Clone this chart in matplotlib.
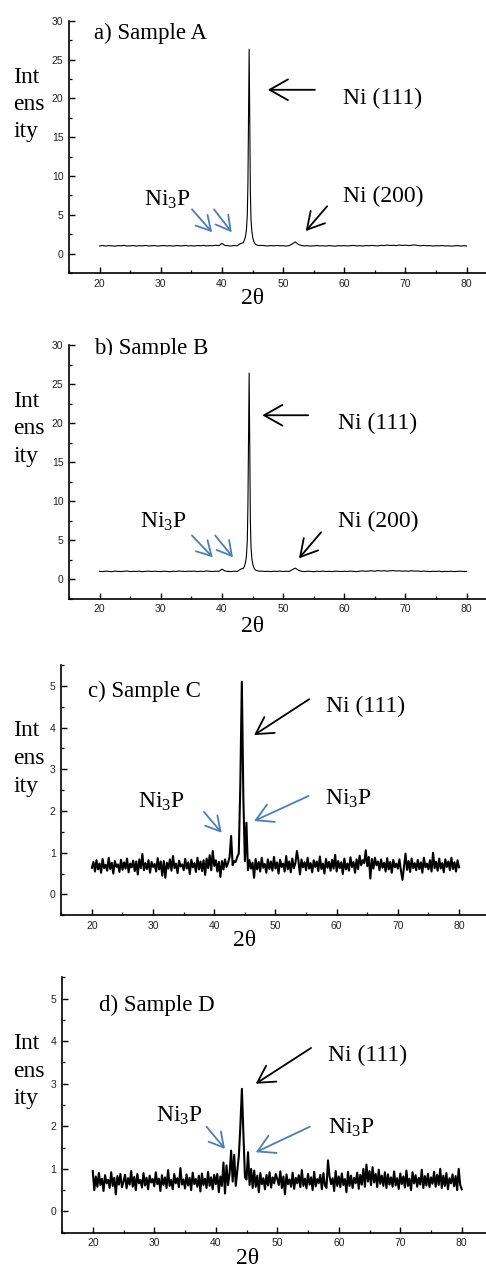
import numpy as np
import matplotlib
matplotlib.use("Agg")
import matplotlib.pyplot as plt
from matplotlib.ticker import MultipleLocator
from matplotlib.patches import Rectangle

plt.rcParams['mathtext.fontset'] = 'custom'
plt.rcParams['mathtext.rm'] = 'Liberation Serif'
plt.rcParams['mathtext.it'] = 'Liberation Serif:italic'

W, H = 486, 1267

# ---------------- data ----------------
# Samples A and B: baseline every 0.5 deg from 20 to 80 (intensity x100)
base_a = [98, 104, 97, 102, 100, 95, 103, 99, 106, 97, 101, 104, 96, 102, 99, 105, 98, 101, 103, 97,
          100, 104, 98, 102, 96, 103, 101, 99, 105, 98, 102, 97, 104, 100, 106, 99, 103, 101, 108, 102,
          132, 104, 101, 98, 104, 100, 128, 140, 200, 300, 500, 118, 104, 106, 102, 98, 103, 100, 104, 101,
          101, 97, 103, 125, 150, 118, 104, 99, 102, 96, 100, 104, 98, 101, 97, 103, 100, 96, 102, 99,
          103, 98, 101, 105, 99, 102, 97, 104, 100, 106, 101, 99, 107, 103, 110, 104, 108, 102, 111, 105,
          109, 103, 107, 112, 104, 100, 106, 101, 103, 97, 102, 99, 104, 98, 101, 96, 100, 103, 97, 101,
          98]
base_b = [101, 97, 103, 99, 96, 104, 100, 98, 102, 105, 97, 101, 99, 103, 96, 100, 104, 98, 102, 99,
          97, 103, 100, 96, 102, 99, 105, 101, 98, 103, 100, 104, 97, 102, 99, 106, 101, 98, 103, 100,
          128, 105, 100, 97, 103, 99, 126, 140, 200, 300, 500, 116, 103, 103, 99, 101, 97, 102, 100, 104,
          98, 102, 99, 122, 142, 115, 101, 97, 103, 100, 96, 102, 99, 104, 98, 101, 97, 103, 100, 98,
          102, 99, 104, 100, 97, 103, 106, 101, 104, 108, 102, 110, 105, 109, 103, 107, 111, 104, 108, 102,
          106, 101, 109, 103, 105, 99, 104, 100, 97, 102, 99, 103, 96, 101, 98, 102, 97, 100, 103, 98,
          100]
# Ni(111) peak profile for A and B
peak_x_ab = [43.7, 43.85, 44.0, 44.15, 44.25, 44.35, 44.45, 44.55, 44.65, 44.75, 44.9, 45.05, 45.2, 45.35]
peak_a = [1.8, 2.2, 3.0, 5.0, 9.0, 17.0, 26.3, 17.0, 8.0, 4.5, 2.8, 2.0, 1.6, 1.35]
peak_b = [1.7, 2.1, 2.9, 5.0, 9.5, 17.5, 26.4, 16.5, 7.5, 4.2, 2.6, 1.9, 1.5, 1.3]

# Samples C and D: every 0.25 deg from 20 to 80 (intensity x100)
int_c = [64, 78, 55, 82, 60, 74, 52, 85, 63, 71, 57, 88, 61, 76, 50, 80, 66, 72, 54, 83,
         59, 77, 62, 86, 53, 74, 65, 81, 56, 79, 48, 84, 63, 97, 58, 75, 61, 82, 52, 78,
         66, 73, 55, 87, 60, 79, 45, 80, 40, 76, 62, 84, 57, 92, 63, 74, 51, 81, 67, 72,
         58, 85, 62, 77, 49, 83, 65, 75, 54, 88, 60, 79, 56, 82, 47, 86, 63, 94, 58, 104,
         68, 82, 55, 78, 42, 80, 60, 84, 66, 75, 90, 140, 70, 80, 78, 90, 98, 260, 510, 230,
         80, 172, 58, 82, 62, 76, 40, 85, 60, 78, 55, 88, 64, 73, 52, 84, 61, 79, 57, 90,
         62, 77, 50, 83, 66, 74, 55, 92, 60, 79, 53, 86, 63, 75, 104, 81, 48, 84, 65, 77,
         58, 88, 62, 75, 53, 82, 66, 79, 56, 91, 61, 74, 50, 85, 64, 78, 57, 83, 62, 95,
         55, 80, 63, 77, 49, 86, 60, 74, 57, 89, 66, 78, 52, 84, 61, 93, 70, 82, 75, 106,
         68, 90, 38, 85, 62, 88, 70, 79, 58, 84, 64, 76, 55, 87, 60, 78, 52, 83, 65, 74,
         62, 84, 57, 35, 66, 98, 59, 80, 54, 86, 63, 75, 58, 83, 61, 77, 52, 88, 65, 74,
         60, 82, 55, 100, 63, 78, 57, 86, 62, 75, 53, 84, 66, 79, 58, 88, 61, 77, 55, 82,
         65]
int_d = [95, 50, 82, 58, 90, 62, 77, 48, 85, 66, 74, 55, 92, 60, 79, 40, 83, 63, 88, 57,
         70, 86, 54, 78, 63, 95, 58, 81, 50, 88, 66, 74, 56, 90, 61, 79, 52, 84, 68, 76,
         59, 92, 64, 77, 48, 85, 62, 80, 55, 97, 60, 74, 52, 88, 66, 78, 57, 102, 63, 75,
         54, 87, 61, 79, 50, 91, 64, 76, 58, 84, 47, 89, 62, 77, 55, 93, 60, 80, 52, 86,
         64, 88, 45, 82, 60, 115, 42, 108, 62, 90, 143, 70, 133, 60, 95, 130, 200, 288, 180, 80,
         75, 139, 62, 100, 55, 96, 58, 84, 45, 90, 64, 78, 52, 86, 61, 92, 56, 80, 66, 88,
         76, 62, 94, 55, 82, 40, 87, 64, 75, 58, 91, 53, 79, 66, 85, 57, 97, 60, 77, 54,
         88, 63, 80, 50, 93, 59, 76, 66, 86, 52, 90, 61, 55, 120, 82, 64, 78, 48, 95, 60,
         82, 57, 89, 62, 76, 45, 93, 60, 84, 55, 79, 66, 91, 53, 86, 63, 100, 58, 110, 70,
         95, 62, 104, 68, 88, 57, 98, 65, 84, 60, 92, 55, 87, 63, 80, 58, 94, 61, 78, 53,
         89, 64, 82, 56, 96, 60, 77, 50, 92, 66, 85, 58, 79, 63, 98, 55, 83, 61, 88, 57,
         80, 65, 93, 58, 86, 62, 100, 55, 84, 60, 90, 52, 78, 66, 87, 59, 83, 50, 100, 62,
         52]

x_ticks = [20, 30, 40, 50, 60, 70, 80]

# ---------------- helpers ----------------
def merge(xb, yb, xp, yp):
    xb = np.asarray(xb, float); yb = np.asarray(yb, float)
    keep = (xb < min(xp)) | (xb > max(xp))
    x = np.concatenate([xb[keep], xp]); y = np.concatenate([yb[keep], yp])
    o = np.argsort(x)
    return x[o], y[o]

def rect(l, t, r, b):
    return [l / W, 1 - b / H, (r - l) / W, (b - t) / H]

def fpx(x, y):
    return (x / W, 1 - y / H)

fig = plt.figure(figsize=(W / 100, H / 100), dpi=100)
fig.patch.set_facecolor('white')

serif = 'Liberation Serif'
BLUE = '#4a7ebb'

def style(ax, xlim, ylim, ymaj, ymin):
    ax.set_xlim(*xlim); ax.set_ylim(*ylim)
    for s in ['top', 'right']:
        ax.spines[s].set_visible(False)
    for s in ['left', 'bottom']:
        ax.spines[s].set_linewidth(1.2)
    ax.set_xticks(x_ticks)
    ax.xaxis.set_minor_locator(MultipleLocator(5))
    ax.yaxis.set_major_locator(MultipleLocator(ymaj))
    ax.yaxis.set_minor_locator(MultipleLocator(ymin))
    ax.tick_params(which='major', direction='in', length=4, width=1.0, labelsize=7.5,
                   labelcolor='#222222', pad=4)
    ax.tick_params(which='minor', direction='in', length=2.5, width=0.9)
    for lab in ax.get_xticklabels() + ax.get_yticklabels():
        lab.set_fontfamily('Liberation Sans')
    ax.set_facecolor('none')

def arrow(ax, tail, head, color, scale=20, lw=1.3):
    ax.annotate('', xy=head, xytext=tail, xycoords='data', textcoords='data',
                arrowprops=dict(arrowstyle='->,head_length=0.6,head_width=0.34',
                                color=color, lw=lw, shrinkA=0, shrinkB=0,
                                mutation_scale=scale), annotation_clip=False)

def label(x, y, s, size=17, **kw):
    return fig.text(*fpx(x, y), s, fontsize=size, family=serif, ha='left', va='center', **kw)

def ylab(x, b1, b2, b3):
    for s, b in zip(['Int', 'ens', 'ity'], [b1, b2, b3]):
        fig.text(*fpx(x, b), s, fontsize=17, family=serif, ha='left', va='baseline')

def xlab(x, y):
    fig.text(*fpx(x, y), '2θ', fontsize=17, family=serif, ha='center', va='center')

# ---------------- Panel A ----------------
axA = fig.add_axes(rect(69, 20.7, 486, 273))
xa, ya = merge(np.linspace(20, 80, 121), np.array(base_a) / 100, peak_x_ab, peak_a)
axA.plot(xa, ya, color='black', lw=0.8)
style(axA, (15, 83.17), (-2.5, 30), 5, 2.5)
arrow(axA, (55.2, 21.1), (47.5, 21.1), 'black', scale=22)
arrow(axA, (57.2, 6.1), (53.7, 2.9), 'black')
arrow(axA, (35.1, 5.7), (38.4, 2.75), BLUE, scale=17)
arrow(axA, (38.7, 5.7), (41.6, 2.75), BLUE, scale=17)
label(94, 33.5, 'a) Sample A', size=16.5)
label(343, 98, 'Ni (111)')
label(343, 196, 'Ni (200)')
label(144, 200, 'Ni$_3$P')
ylab(13, 83, 110, 137.5)
xlab(253, 298)

# ---------------- Panel B ----------------
axB = fig.add_axes(rect(69, 345, 486, 598.7))
xb, yb = merge(np.linspace(20, 80, 121), np.array(base_b) / 100, peak_x_ab, peak_b)
axB.plot(xb, yb, color='black', lw=0.8)
style(axB, (15, 83.17), (-2.5, 30), 5, 2.5)
arrow(axB, (54.1, 21.0), (46.6, 21.0), 'black', scale=22)
arrow(axB, (56.2, 6.0), (52.6, 2.67), 'black')
arrow(axB, (35.1, 5.6), (38.5, 2.8), BLUE, scale=17)
arrow(axB, (38.9, 5.6), (41.8, 2.8), BLUE, scale=17)
label(94, 348.5, 'b) Sample B', size=16.5)
# the title of panel b is cut off along its lower edge in the original
fig.add_artist(Rectangle(fpx(88, 368), 140 / W, 13.5 / H, transform=fig.transFigure,
                         facecolor='white', edgecolor='none', zorder=10))
label(338, 423, 'Ni (111)')
label(338, 521.7, 'Ni (200)')
label(140, 521.7, 'Ni$_3$P')
ylab(13, 406.7, 434.3, 461.7)
xlab(253, 626.7)

# ---------------- Panel C ----------------
axC = fig.add_axes(rect(61.3, 665, 486, 915.3))
xcd = np.linspace(20, 80, 241)
axC.plot(xcd, np.array(int_c) / 100, color='black', lw=1.5)
style(axC, (15, 84.4), (-0.5, 5.5), 1, 0.5)
arrow(axC, (55.5, 4.68), (46.5, 3.82), 'black')
arrow(axC, (38.3, 1.98), (41.2, 1.48), BLUE, scale=17)
arrow(axC, (55.4, 2.36), (46.5, 1.76), BLUE)
label(87.7, 691.7, 'c) Sample C', size=16.5)
label(326, 706.7, 'Ni (111)')
label(138.3, 801.7, 'Ni$_3$P')
label(325, 799.3, 'Ni$_3$P')
ylab(13, 735.7, 764, 791.7)
xlab(245, 940)

# ---------------- Panel D ----------------
axD = fig.add_axes(rect(62, 977.3, 486, 1232.7))
axD.plot(xcd, np.array(int_d) / 100, color='black', lw=1.5)
style(axD, (15, 83.94), (-0.5, 5.5), 1, 0.5)
arrow(axD, (55.5, 3.84), (46.5, 3.0), 'black')
arrow(axD, (38.5, 1.99), (41.5, 1.47), BLUE, scale=17)
arrow(axD, (55.3, 1.99), (46.5, 1.39), BLUE)
label(99.3, 1005.7, 'd) Sample D', size=16.5)
label(328.3, 1055, 'Ni (111)')
label(156, 1116, 'Ni$_3$P')
label(327.7, 1128.3, 'Ni$_3$P')
ylab(13, 1049.3, 1076.7, 1104)
xlab(247.7, 1258)

fig.savefig('out.png', dpi=100, facecolor='white')
